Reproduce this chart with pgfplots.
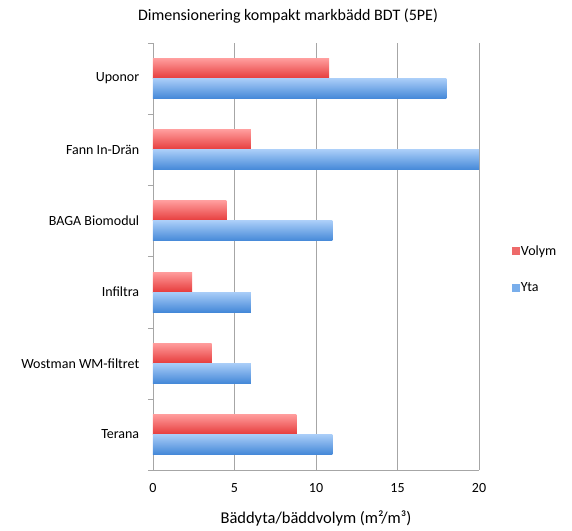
\documentclass[border=0pt]{standalone}
\usepackage{pgfplots}
\pgfplotsset{compat=1.18}
\usepackage{fontspec}
\setmainfont{Carlito}
\definecolor{redT}{HTML}{FF9C9C}
\definecolor{redB}{HTML}{E63B3B}
\definecolor{blueT}{HTML}{A9CDF8}
\definecolor{blueB}{HTML}{4488D8}
\definecolor{redL}{HTML}{EE6A6A}
\definecolor{blueL}{HTML}{79AEEB}
\pgfplotsset{
  volym/.style={bar shift=10pt, draw=none, top color=redT, bottom color=redB, forget plot},
  yta/.style={bar shift=-10pt, draw=none, top color=blueT, bottom color=blueB, forget plot},
}
\begin{document}
\begin{tikzpicture}
\useasboundingbox (-153pt,-60pt) rectangle (419pt,470pt);
\begin{axis}[
  at={(0pt,0pt)}, anchor=south west,
  scale only axis, width=326pt, height=427pt,
  xbar, bar width=20pt,
  xmin=0, xmax=20, ymin=-0.5, ymax=5.5,
  xtick={0,5,...,20},
  ytick={0,...,5},
  yticklabels={Terana,Wostman WM-filtret,Infiltra,BAGA Biomodul,Fann In-Drän,Uponor},
  minor ytick={-0.5,0.5,...,5.5},
  major y tick style={draw=none},
  minor tick length=5pt,
  tick align=outside,
  minor y tick style={gray!70},
  major x tick style={draw=none},
  xmajorgrids, grid style={gray!70, line width=0.8pt},
  axis x line*=bottom, axis y line*=left,
  axis line style={gray!70, line width=0.8pt},
  ticklabel style={font=\fontsize{14}{16}\selectfont},
  /pgf/number format/assume math mode=true,
  xticklabel style={yshift=-6pt},
  yticklabel style={xshift=-6pt},
  xlabel={Bäddyta/bäddvolym (m²/m³)},
  xlabel style={font=\fontsize{16.5}{19}\selectfont, yshift=-11pt},
  title={Dimensionering kompakt markbädd BDT (5PE)},
  title style={font=\fontsize{16}{19}\selectfont, at={(0.414,1)}, anchor=south, yshift=10pt},
  legend style={at={(1.09,0.47)}, anchor=west, draw=none, fill=none,
    font=\fontsize{14}{16}\selectfont, row sep=22pt},
  legend cell align=left,
]
\addlegendimage{legend image code/.code={\fill[redL] (0pt,-3.5pt) rectangle (7pt,3.5pt);}}
\addlegendentry{Volym}
\addlegendimage{legend image code/.code={\fill[blueL] (0pt,-3.5pt) rectangle (7pt,3.5pt);}}
\addlegendentry{Yta}
% Volym
\addplot[volym] coordinates {(8.8,0)};
\addplot[volym] coordinates {(3.6,1)};
\addplot[volym] coordinates {(2.4,2)};
\addplot[volym] coordinates {(4.5,3)};
\addplot[volym] coordinates {(6.0,4)};
\addplot[volym] coordinates {(10.8,5)};
% Yta
\addplot[yta] coordinates {(11,0)};
\addplot[yta] coordinates {(6,1)};
\addplot[yta] coordinates {(6,2)};
\addplot[yta] coordinates {(11,3)};
\addplot[yta] coordinates {(20,4)};
\addplot[yta] coordinates {(18,5)};
\end{axis}
\end{tikzpicture}
\end{document}
